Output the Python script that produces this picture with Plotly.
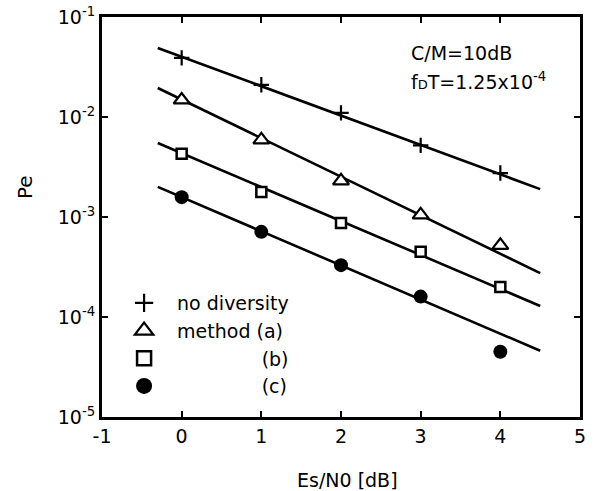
import plotly.graph_objects as go

# ---- data ----
es_n0 = [0, 1, 2, 3, 4]
pe_none = [0.039, 0.021, 0.011, 5.2e-3, 2.75e-3]
pe_a = [0.0148, 5.9e-3, 2.3e-3, 1.05e-3, 5.2e-4]
pe_b = [4.3e-3, 1.78e-3, 8.7e-4, 4.5e-4, 2.0e-4]
pe_c = [1.58e-3, 7.1e-4, 3.3e-4, 1.6e-4, 4.5e-5]

# fitted straight lines (endpoints)
fit_x = [-0.3, 4.5]
fit_none = [0.049, 1.9e-3]
fit_a = [0.0195, 2.75e-4]
fit_b = [5.5e-3, 1.29e-4]
fit_c = [2.0e-3, 4.6e-5]

x_ticks = [-1, 0, 1, 2, 3, 4, 5]
x_ticktext = ["-1", "0", "1", "2", "3", "4", "5"]
y_ticks = [1e-5, 1e-4, 1e-3, 1e-2, 1e-1]
y_ticktext = ["10<sup>-5</sup>", "10<sup>-4</sup>", "10<sup>-3</sup>",
              "10<sup>-2</sup>", "10<sup>-1</sup>"]

legend_names = ["no diversity", "method (a)",
                "\u00a0" * 14 + "(b)", "\u00a0" * 14 + "(c)"]

FONT = "DejaVu Sans"
fig = go.Figure()

for fy in [fit_none, fit_a, fit_b, fit_c]:
    fig.add_trace(go.Scatter(x=fit_x, y=fy, mode="lines",
                             line=dict(color="black", width=2.6),
                             showlegend=False, hoverinfo="skip"))

styles = [
    dict(symbol="cross-thin", size=11, color="black", line=dict(color="black", width=2.2)),
    dict(symbol="triangle-up", size=14, color="white", line=dict(color="black", width=2.2)),
    dict(symbol="square", size=10, color="white", line=dict(color="black", width=2.5)),
    dict(symbol="circle", size=14, color="black", line=dict(color="black", width=0)),
]
series = [pe_none, pe_a, pe_b, pe_c]
for ys, st in zip(series, styles):
    fig.add_trace(go.Scatter(x=es_n0, y=ys, mode="markers", marker=st,
                             showlegend=False))

legend_styles = [
    dict(symbol="cross-thin", size=13, color="black", line=dict(color="black", width=2.2)),
    dict(symbol="triangle-up", size=16, color="white", line=dict(color="black", width=2.2)),
    dict(symbol="square", size=14, color="white", line=dict(color="black", width=2.5)),
    dict(symbol="circle", size=16, color="black", line=dict(color="black", width=0)),
]
for name, st in zip(legend_names, legend_styles):
    fig.add_trace(go.Scatter(x=[None], y=[None], mode="markers", marker=st,
                             name=name, showlegend=True))

axis_common = dict(showline=True, linewidth=3, linecolor="black", mirror="allticks",
                   ticks="inside", ticklen=6, tickwidth=2, tickcolor="black",
                   showgrid=False, zeroline=False, automargin=False,
                   ticklabeloverflow="allow",
                   tickfont=dict(family=FONT, size=19, color="black"))

fig.update_xaxes(range=[-1, 5], tickvals=x_ticks, ticktext=x_ticktext, **axis_common)
fig.update_yaxes(type="log", range=[-5, -1], tickvals=y_ticks, ticktext=y_ticktext,
                 **axis_common)

fig.add_annotation(text="Pe", xref="paper", yref="paper", x=-0.161, y=0.575,
                   textangle=-90, showarrow=False, xanchor="center", yanchor="middle",
                   font=dict(family=FONT, size=20, color="black"))
fig.add_annotation(text="Es/N0 [dB]", xref="paper", yref="paper", x=0.513, y=-0.1575,
                   showarrow=False, xanchor="center", yanchor="middle",
                   font=dict(family=FONT, size=19, color="black"))
fig.add_annotation(text="C/M=10dB", xref="paper", yref="paper", x=0.642, y=0.91,
                   showarrow=False, xanchor="left", yanchor="middle",
                   font=dict(family=FONT, size=19, color="black"))
fig.add_annotation(text="f<span style='font-size:13px'>D</span>T=1.25x10<sup>-4</sup>",
                   xref="paper", yref="paper", x=0.642, y=0.84,
                   showarrow=False, xanchor="left", yanchor="middle",
                   font=dict(family=FONT, size=19, color="black"))

fig.update_layout(
    width=601, height=491,
    margin=dict(l=102, r=21, t=17, b=74),
    plot_bgcolor="white", paper_bgcolor="white",
    legend=dict(x=0.019, y=0.3325, xanchor="left", yanchor="top",
                itemwidth=56,
                bgcolor="rgba(0,0,0,0)", borderwidth=0,
                font=dict(family=FONT, size=19, color="black")),
)

# remove the browser's default 8 px body margin so the figure fills the window
fig.write_html("out.html", config={"displayModeBar": False},
               post_script="document.body.style.margin='0px';document.body.style.overflow='hidden';")
